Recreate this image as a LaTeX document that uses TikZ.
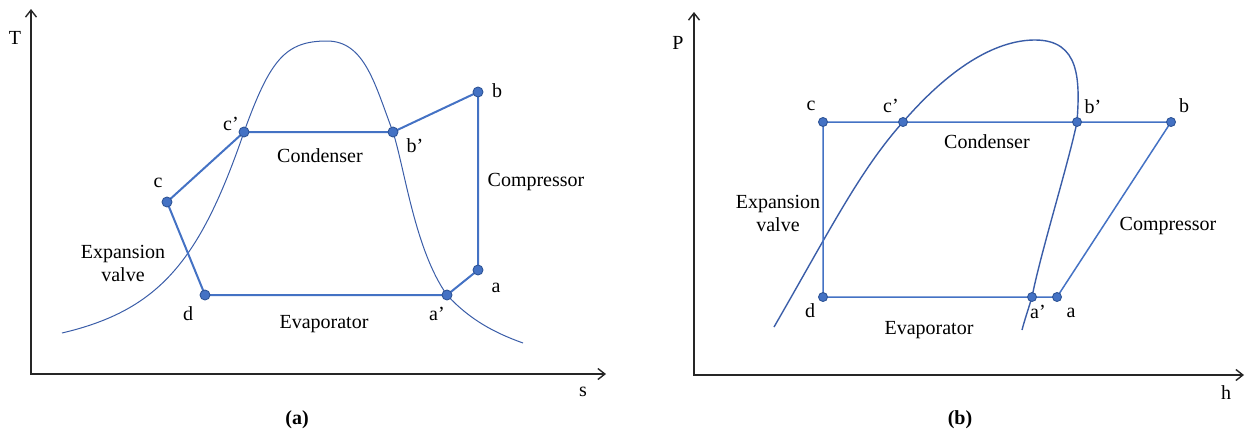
\documentclass[tikz,border=0pt]{standalone}
\usepackage{fontspec}
\setmainfont{Liberation Serif}
\usetikzlibrary{arrows.meta, positioning, backgrounds}
\definecolor{cycblue}{HTML}{4472C4}
\definecolor{dotblue}{HTML}{2F5597}
\definecolor{domeblue}{HTML}{3A5DA8}

\begin{document}
\begin{tikzpicture}[
  x=1pt, y=-1pt,
  every node/.style={font=\fontsize{20}{23}\selectfont, inner sep=0pt},
  axis/.style={{Straight Barb[length=7pt, width=11pt]}-{Straight Barb[length=7pt, width=11pt]}, line width=1.4pt, black!85},
  dome/.style={domeblue, line width=1pt},
  cycpath/.style={cycblue, line width=2pt, line join=round},
  statept/.style={circle, fill=cycblue, draw=dotblue, line width=0.9pt, minimum size=10pt},
  caption/.style={font=\fontsize{20}{23}\selectfont\bfseries}
]
\useasboundingbox (0,0) rectangle (1246,432);

% (a) T-s diagram
\coordinate (tTop) at (31,9);
\coordinate (oA) at (31,374);
\coordinate (sEnd) at (606,374);
\draw[axis] (tTop) -- (oA) -- (sEnd);
\node (lblT) at (15,38) {T};
\node (lblS) at (583,392) {s};

\node[statept] (cA) at (167,202) {};
\node[statept] (cpA) at (244,132) {};
\node[statept] (bpA) at (393,132) {};
\node[statept] (bA) at (478,92) {};
\node[statept] (aA) at (478,270) {};
\node[statept] (apA) at (447,295) {};
\node[statept] (dA) at (205,295) {};

\begin{scope}[on background layer]
  \draw[dome] (62,333) .. controls (160,310) and (200,260) .. (cpA.center)
    .. controls (270,60) and (285,41) .. (327,41)
    .. controls (365,41) and (375,85) .. (bpA.center)
    .. controls (405,170) and (415,250) .. (apA.center)
    .. controls (470,320) and (495,333) .. (523,343);
  \draw[cycpath] (cA.center) -- (cpA.center) -- (bpA.center) -- (bA.center) -- (aA.center) -- (apA.center) -- (dA.center) -- (cA.center);
\end{scope}

\node (lcA) at (158,183) {c};
\node (lcpA) at (231,124) {c’};
\node (lbpA) at (415,146) {b’};
\node (lbA) at (497,91) {b};
\node (laA) at (496,288) {a};
\node (lapA) at (437,314) {a’};
\node (ldA) at (188,314) {d};
\node (condA) at (320,156) {Condenser};
\node (compA) at (536,182) {Compressor};
\node[align=center] (expA) at (123,263) {Expansion\\valve};
\node (evapA) at (324,324) {Evaporator};
\node[caption] (capA) at (297,420) {(a)};

% (b) P-h diagram
\coordinate (pTop) at (694,12);
\coordinate (oB) at (694,375);
\coordinate (hEnd) at (1244,375);
\draw[axis] (pTop) -- (oB) -- (hEnd);
\node (lblP) at (678,43) {P};
\node (lblH) at (1226,393) {h};

\node[statept, minimum size=9pt] (cB) at (823,122) {};
\node[statept, minimum size=9pt] (cpB) at (903,122) {};
\node[statept, minimum size=9pt] (bpB) at (1077,122) {};
\node[statept, minimum size=9pt] (bB) at (1171,122) {};
\node[statept, minimum size=9pt] (aB) at (1057,297) {};
\node[statept, minimum size=9pt] (apB) at (1032,297) {};
\node[statept, minimum size=9pt] (dB) at (823,297) {};

\begin{scope}[on background layer]
  \draw[dome, line width=1.4pt] (774,327) .. controls (830,230) and (860,170) .. (cpB.center)
    .. controls (955,62) and (1000,40) .. (1035,40)
    .. controls (1080,40) and (1080,80) .. (bpB.center)
    .. controls (1068,165) and (1040,255) .. (apB.center)
    .. controls (1028,310) and (1024,322) .. (1022,330);
  \draw[cycpath, line width=1.5pt] (cB.center) -- (cpB.center) -- (bpB.center) -- (bB.center) -- (aB.center) -- (apB.center) -- (dB.center) -- (cB.center);
\end{scope}

\node (lcB) at (811,106) {c};
\node (lcpB) at (891,106) {c’};
\node (lbpB) at (1093,107) {b’};
\node (lbB) at (1184,106) {b};
\node (laB) at (1071,313) {a};
\node (lapB) at (1038,312) {a’};
\node (ldB) at (810,311) {d};
\node (condB) at (987,142) {Condenser};
\node (compB) at (1168,226) {Compressor};
\node[align=center] (expB) at (778,213) {Expansion\\valve};
\node (evapB) at (929,330) {Evaporator};
\node[caption] (capB) at (960,420) {(b)};
\end{tikzpicture}
\end{document}
